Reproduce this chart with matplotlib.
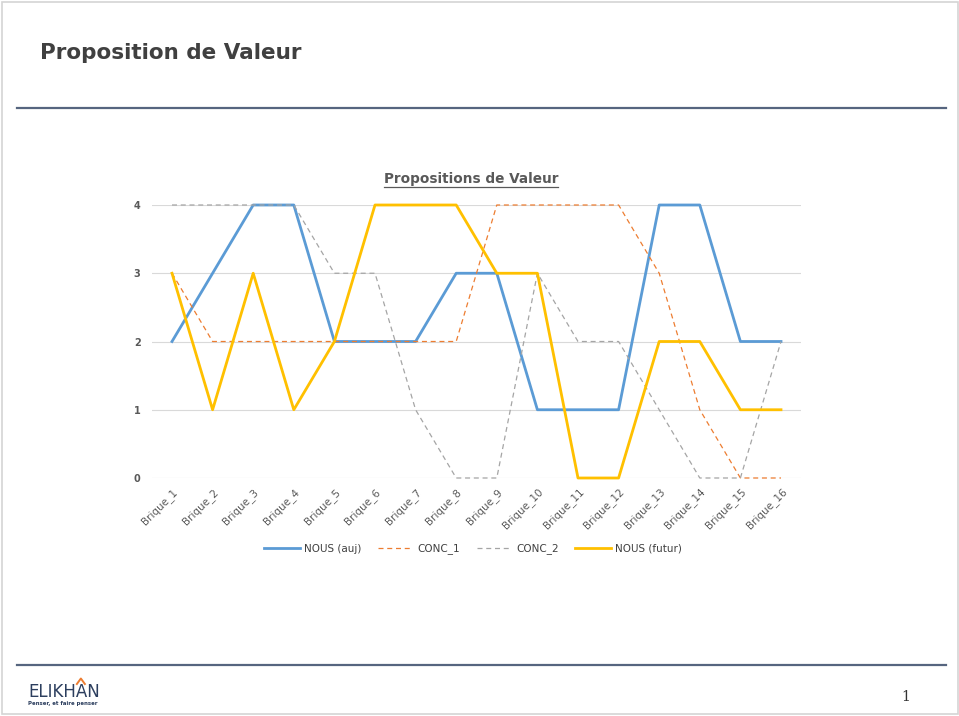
import numpy as np
import matplotlib
matplotlib.use('Agg')
import matplotlib.pyplot as plt
from matplotlib.lines import Line2D
from matplotlib.patches import Rectangle

# donnees
briques = ['Brique_%d' % i for i in range(1, 17)]
nous_auj = [2, 3, 4, 4, 2, 2, 2, 3, 3, 1, 1, 1, 4, 4, 2, 2]
conc_1 = [3, 2, 2, 2, 2, 2, 2, 2, 4, 4, 4, 4, 3, 1, 0, 0]
conc_2 = [4, 4, 4, 4, 3, 3, 1, 0, 0, 3, 2, 2, 1, 0, 0, 2]
nous_futur = [3, 1, 3, 1, 2, 4, 4, 4, 3, 3, 0, 0, 2, 2, 1, 1]

W, H = 959, 716
fig = plt.figure(figsize=(W / 100, H / 100), dpi=100)
fig.patch.set_facecolor('white')

def fx(px):
    return px / W

def fy(py):
    return 1 - py / H

# cadre de la page
fig.add_artist(Rectangle((fx(1.5), fy(714)), fx(956), (712) / H, transform=fig.transFigure,
                         fill=False, edgecolor='#d4d4d4', linewidth=1.2))

# titre de la diapo + lignes
fig.text(fx(40), fy(53), 'Proposition de Valeur', fontsize=15.5, fontweight='bold',
         color='#404040', va='center', ha='left')
for yy in (108, 665):
    fig.add_artist(Line2D([fx(17), fx(946)], [fy(yy), fy(yy)], transform=fig.transFigure,
                          color='#56657f', linewidth=1.6))

# zone du graphique
ax = fig.add_axes([fx(151.7), fy(478), fx(649.6), (478 - 205) / H])
x = np.arange(len(briques))
ax.plot(x, nous_auj, color='#5B9BD5', linewidth=2.0, label='NOUS (auj)', zorder=3)
ax.plot(x, conc_1, color='#ED7D31', linewidth=0.9, linestyle=(0, (4, 3)), label='CONC_1', zorder=3)
ax.plot(x, conc_2, color='#A5A5A5', linewidth=0.9, linestyle=(0, (4, 3)), label='CONC_2', zorder=3)
ax.plot(x, nous_futur, color='#FFC000', linewidth=2.0, label='NOUS (futur)', zorder=3)

ax.set_xlim(-0.5, len(briques) - 0.5)
ax.set_ylim(0, 4)
ax.set_yticks([0, 1, 2, 3, 4])
ax.set_yticklabels(['0', '1', '2', '3', '4'], fontsize=7, fontweight='bold', color='#595959')
ax.set_xticks(x)
ax.set_xticklabels(briques, rotation=45, ha='right', rotation_mode='anchor',
                   fontsize=7.5, color='#595959')
ax.tick_params(axis='both', length=0, pad=8)
ax.tick_params(axis='x', pad=6)
ax.grid(axis='y', color='#d9d9d9', linewidth=0.8)
ax.set_axisbelow(True)
for s in ax.spines.values():
    s.set_visible(False)
for line in ax.lines:
    line.set_clip_on(False)

# titre du graphique souligne
t = fig.text(fx(471), fy(179), 'Propositions de Valeur', fontsize=9.8, fontweight='bold',
             color='#595959', ha='center', va='center')
fig.canvas.draw()
bb = t.get_window_extent()
fig.add_artist(Line2D([bb.x0 / W, bb.x1 / W], [(bb.y0 - 1) / H, (bb.y0 - 1) / H],
                      transform=fig.transFigure, color='#595959', linewidth=0.9))

fig.legend(loc='center', bbox_to_anchor=(fx(473), fy(549)), ncol=4, frameon=False,
           fontsize=7.5, handlelength=3.4, columnspacing=1.6, handletextpad=0.4,
           labelcolor='#404040')

# logo
tmp = fig.text(fx(28), fy(692), 'ELIKH', fontsize=12, color='#2c3e5e', ha='left', va='center')
fig.canvas.draw()
lb = tmp.get_window_extent()
tmp.remove()
logo = fig.text(fx(28), fy(692), 'ELIKHAN', fontsize=12, color='#2c3e5e', ha='left', va='center')
ax_a = lb.x1 + 5
fig.add_artist(Line2D([(ax_a - 4) / W, ax_a / W, (ax_a + 4) / W],
                      [fy(684), fy(678.5), fy(684)], transform=fig.transFigure,
                      color='#ED7D31', linewidth=1.4))
fig.text(fx(28), fy(703.5), 'Penser, et faire penser', fontsize=3.9, fontweight='bold',
         color='#2c3e5e', ha='left', va='center')

fig.text(fx(906), fy(697), '1', fontsize=10, family='DejaVu Serif', color='#333333',
         ha='center', va='center')

fig.savefig('out.png', dpi=100)
